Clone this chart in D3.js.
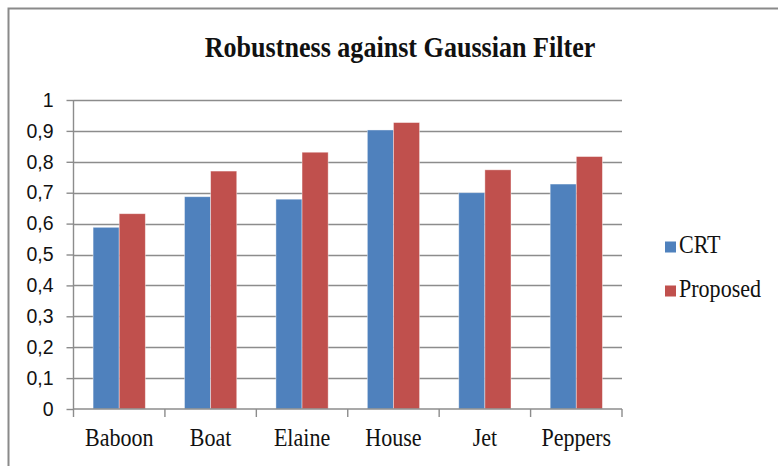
<!DOCTYPE html>
<html><head><meta charset="utf-8">
<script src="https://cdn.jsdelivr.net/npm/d3@7"></script>
<style>html,body{margin:0;padding:0;background:#fff;}</style>
</head><body>
<svg id="chart" width="778" height="466"></svg>
<script>
const title = "Robustness against Gaussian Filter";
const categories = ["Baboon", "Boat", "Elaine", "House", "Jet", "Peppers"];
const seriesNames = ["CRT", "Proposed"];
const crt = [0.588, 0.687, 0.679, 0.903, 0.700, 0.728];
const proposed = [0.632, 0.770, 0.831, 0.927, 0.774, 0.817];
const yTicks = [0, 0.1, 0.2, 0.3, 0.4, 0.5, 0.6, 0.7, 0.8, 0.9, 1];
const colors = ["#4F81BD", "#C0504D"];

(function () {
const svg = d3.select("#chart");
const W = 778, H = 466;
const pLeft = 73.5, pRight = 622, pTop = 100, pBottom = 409;
const serif = "'Liberation Serif', 'Times New Roman', 'DejaVu Serif', serif";

// outer frame
svg.append("path").attr("d", `M8.5,${H} L8.5,8.5 L${W},8.5`)
  .attr("fill", "none").attr("stroke", "#8a8a8a").attr("stroke-width", 2);

const x = d3.scaleBand().domain(categories).range([pLeft, pRight]).paddingInner(0).paddingOuter(0);
const y = d3.scaleLinear().domain([0, 1]).range([pBottom, pTop]);

// gridlines
svg.append("g").selectAll("line").data(yTicks.filter(d => d > 0)).join("line")
  .attr("x1", pLeft).attr("x2", pRight)
  .attr("y1", d => Math.round(y(d)) + 0.5).attr("y2", d => Math.round(y(d)) + 0.5)
  .attr("stroke", "#8c8c8c").attr("stroke-width", 1.4);

// bars
const data = [crt, proposed];
const bw = x.bandwidth() / 3.5;
categories.forEach((c, i) => {
  data.forEach((arr, s) => {
    const x0 = x(c) + x.bandwidth() / 2 - bw + s * bw;
    svg.append("rect")
      .attr("x", x0).attr("width", bw)
      .attr("y", y(arr[i])).attr("height", y(0) - y(arr[i]))
      .attr("fill", colors[s]).attr("stroke", "rgba(255,255,255,0.5)").attr("stroke-width", 0.8);
  });
});

// y axis
const yAxis = d3.axisLeft(y).tickValues(yTicks).tickSize(7).tickPadding(13)
  .tickFormat(d => d === 0 ? "0" : d === 1 ? "1" : d3.format(".1f")(d).replace(".", ","));
const gy = svg.append("g").attr("transform", `translate(${pLeft},0)`).call(yAxis);
gy.select(".domain").attr("stroke", "#8c8c8c").attr("stroke-width", 1.4).attr("d", `M0,${pTop}V${pBottom}`);
gy.selectAll(".tick line").attr("stroke", "#8c8c8c").attr("stroke-width", 1.4);
gy.selectAll(".tick text").attr("font-family", "'Liberation Sans', Arial, sans-serif")
  .attr("font-size", 19.5).attr("fill", "#111");

// x axis
const xAxis = d3.axisBottom(x).tickSize(0).tickPadding(0);
const gx = svg.append("g").attr("transform", `translate(0,${pBottom})`).call(xAxis);
gx.select(".domain").attr("stroke", "#8c8c8c").attr("stroke-width", 1.4).attr("d", `M${pLeft},0H${pRight}`);
gx.selectAll(".tick text").remove();
const bounds = categories.map(c => x(c)).concat([pRight]);
gx.selectAll("line.sep").data(bounds).join("line").attr("class", "sep")
  .attr("x1", d => d).attr("x2", d => d).attr("y1", 0).attr("y2", 8)
  .attr("stroke", "#8c8c8c").attr("stroke-width", 1.4);
svg.append("g").selectAll("text").data(categories).join("text")
  .attr("transform", d => `translate(${x(d) + x.bandwidth() / 2},446) scale(0.9,1)`)
  .attr("text-anchor", "middle")
  .attr("font-family", serif)
  .attr("font-size", 24.5).attr("fill", "#111").text(d => d);

// title
svg.append("text").attr("transform", `translate(400,57) scale(0.9,1)`)
  .attr("text-anchor", "middle")
  .attr("font-family", serif)
  .attr("font-weight", "bold").attr("font-size", 29).attr("fill", "#111").text(title);

// legend
const lg = svg.append("g");
seriesNames.forEach((n, i) => {
  const ly = 253 + i * 44;
  lg.append("rect").attr("x", 665).attr("y", ly - 11.5).attr("width", 11).attr("height", 11).attr("fill", colors[i]);
  lg.append("text").attr("transform", `translate(679,${ly}) scale(0.9,1)`)
    .attr("font-family", serif)
    .attr("font-size", 24.5).attr("fill", "#111").text(n);
});
})();
</script>
</body></html>
